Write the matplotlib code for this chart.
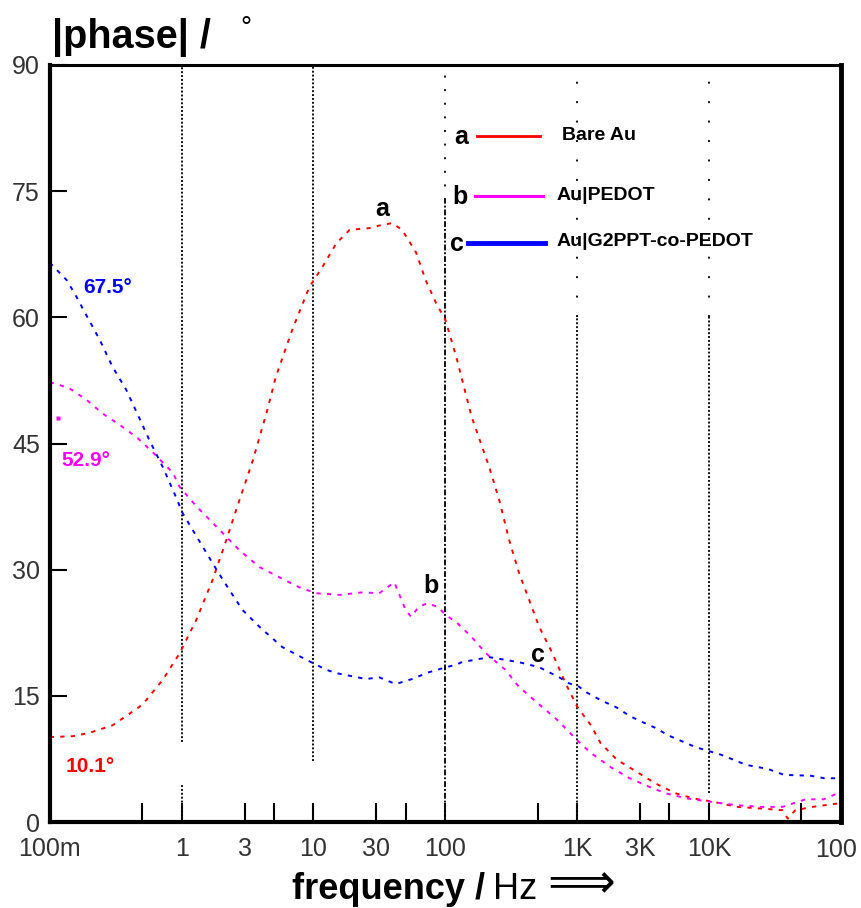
import matplotlib
matplotlib.use("Agg")
import matplotlib.pyplot as plt
from matplotlib.lines import Line2D
from matplotlib.ticker import NullLocator, FixedLocator, FixedFormatter

# ---------------- data ----------------
freq_a = [0.1, 0.15, 0.2, 0.3, 0.48, 0.54, 0.72, 0.97, 1.29, 1.72, 2.18, 2.75, 3.47, 4.4, 5.2,
          6.9, 9.3, 11.7, 14.9, 18.8, 26.4, 33.2, 39.5, 47, 60, 71, 85, 100, 121, 158, 215,
          256, 305, 362, 432, 515, 647, 815, 1000, 1270, 1500, 2000, 2800, 3900, 5600, 7600,
          10800, 16200, 25000, 36000, 39500, 45000, 61000, 94000, 100000]
phase_a = [10.1, 10.2, 10.6, 11.5, 13.7, 14.5, 16.9, 20.1, 24.0, 28.8, 33.5, 38.3, 43.0, 48.6, 53.0,
           58.5, 63.6, 66.0, 68.8, 70.4, 70.6, 71.0, 71.2, 70.4, 67.7, 64.4, 61.7, 59.7, 55.3, 48.2, 42.2,
           38.3, 33.5, 29.6, 26.4, 23.2, 20.1, 16.5, 13.7, 11.5, 9.4, 7.4, 6.0, 4.6, 3.4, 2.8,
           2.4, 1.8, 1.6, 1.4, 0.4, 1.4, 1.8, 2.2, 2.2]

freq_b = [0.1, 0.14, 0.19, 0.25, 0.34, 0.46, 0.61, 0.86, 0.97, 1.3, 1.95, 2.75, 3.9, 5.5, 7.8,
          10.5, 15.8, 23.5, 31.5, 41, 50, 55, 63, 73, 87, 101, 122, 158, 202, 285, 360, 455,
          710, 1000, 1270, 1800, 2500, 3500, 4700, 6800, 10300, 16000, 25000, 36000, 45000,
          54000, 74000, 94000, 100000]
phase_b = [52.3, 51.6, 50.2, 48.6, 47.2, 45.7, 43.9, 41.5, 39.8, 37.5, 34.7, 32.3, 30.3, 29.1, 27.9,
           27.2, 27.0, 27.3, 27.2, 28.5, 25.2, 24.4, 25.6, 26.0, 25.6, 24.6, 23.7, 22.0, 20.1, 18.1, 16.1, 14.7,
           12.1, 9.7, 8.2, 6.5, 5.2, 4.2, 3.4, 2.8, 2.4, 2.0, 1.8, 1.8, 2.3,
           2.7, 2.7, 3.4, 3.6]
stray_b_freq = [0.1155]
stray_b_phase = [48.0]

freq_c = [0.1, 0.135, 0.16, 0.195, 0.24, 0.3, 0.38, 0.46, 0.57, 0.72, 0.88, 1.02, 1.45, 1.84, 2.3,
          2.9, 3.9, 5.8, 8.8, 12.5, 14.9, 25, 31.5, 42, 56, 75, 101, 121, 133, 215, 362, 515,
          730, 863, 1030, 1150, 1500, 2000, 2500, 3100, 3900, 4900, 7900, 12300, 19000, 28000,
          37000, 59000, 75000, 93000, 100000]
phase_c = [66.5, 64.4, 62.4, 59.9, 57.3, 54.1, 51.4, 48.6, 45.4, 42.2, 39.1, 36.7, 32.7, 30.0, 27.6,
           25.2, 23.2, 20.8, 19.3, 18.1, 17.7, 17.0, 17.2, 16.4, 17.0, 17.8, 18.4, 18.7, 19.0, 19.6, 19.0, 18.4,
           17.2, 16.5, 16.1, 15.5, 14.5, 13.6, 12.6, 11.9, 11.2, 10.3, 8.9, 8.0, 6.8, 6.3,
           5.6, 5.5, 5.2, 5.2, 5.2]

series_names = ["Bare Au", "Au|PEDOT", "Au|G2PPT-co-PEDOT"]
series_letters = ["a", "b", "c"]
series_colors = ["#ff0000", "#ff00ff", "#0000ff"]
start_labels = ["10.1°", "52.9°", "67.5°"]

x_tick_pos = [0.1, 0.5, 1, 3, 5, 10, 30, 50, 100, 500, 1e3, 3e3, 5e3, 1e4, 5e4, 1e5]
x_tick_lab = ["100m", "", "1", "3", "", "10", "30", "", "100", "", "1K", "3K", "", "10K", "", ""]
y_ticks = [0, 15, 30, 45, 60, 75, 90]
grid_freqs = [1, 10, 100, 1e3, 1e4]

# ---------------- figure ----------------
W, H = 862, 908
fig = plt.figure(figsize=(W / 100, H / 100), dpi=100)
fig.patch.set_facecolor("white")
AX_L, AX_R, AX_T, AX_B = 49.7, 841.0, 65.0, 822.0
ax = fig.add_axes([AX_L / W, 1 - AX_B / H, (AX_R - AX_L) / W, (AX_B - AX_T) / H])

def F(x, y):
    return (x / W, 1 - y / H)

SANS = ["Liberation Sans", "DejaVu Sans"]

ax.set_xscale("log")
ax.set_xlim(0.1, 1e5)
ax.set_ylim(0, 90)

# grid lines (vertical dotted)
gcol = "#111111"
dots = (0, (1, 1.0))
ax.vlines(grid_freqs[0], 9.5, 90, colors=gcol, linestyles=dots, lw=1.4)
ax.vlines(grid_freqs[0], 0, 4.5, colors=gcol, linestyles=dots, lw=1.4)
ax.vlines(grid_freqs[1], 7.2, 90, colors=gcol, linestyles=dots, lw=1.4)
ax.vlines(grid_freqs[2], 0, 74, colors=gcol, linestyles=(0, (3, 1.0, 1, 1.0)), lw=1.4)
ax.vlines(grid_freqs[2], 74, 90, colors=gcol, linestyles=(0, (1, 6)), lw=1.4)
ax.vlines(grid_freqs[3], 0, 60, colors=gcol, linestyles=dots, lw=1.4)
ax.vlines(grid_freqs[3], 60, 90, colors=gcol, linestyles=(0, (1, 9)), lw=1.4)
ax.vlines(grid_freqs[4], 3.5, 60, colors=gcol, linestyles=dots, lw=1.4)
ax.vlines(grid_freqs[4], 60, 90, colors=gcol, linestyles=(0, (1, 9)), lw=1.4)

# curves
ls = (0, (2.2, 3.2))
ax.plot(freq_a, phase_a, color=series_colors[0], lw=1.4, ls=ls)
ax.plot(freq_b, phase_b, color=series_colors[1], lw=1.4, ls=ls)
ax.plot(freq_c, phase_c, color=series_colors[2], lw=1.4, ls=ls)
ax.plot(stray_b_freq, stray_b_phase, ls="none", marker="s", ms=3, color=series_colors[1], mec="none")

# spines
for s, lw in [("left", 3), ("bottom", 3), ("top", 2.2), ("right", 3.5)]:
    ax.spines[s].set_linewidth(lw)
    ax.spines[s].set_color("black")

# ticks
ax.set_yticks(y_ticks)
ax.set_yticklabels([str(v) for v in y_ticks])
ax.tick_params(axis="y", direction="in", length=12, width=1.5, pad=7,
               labelsize=18, labelcolor="#333333", right=False)
ax.xaxis.set_major_locator(FixedLocator(x_tick_pos))
ax.xaxis.set_major_formatter(FixedFormatter(x_tick_lab))
ax.xaxis.set_minor_locator(NullLocator())
ax.tick_params(axis="x", direction="in", length=14, width=1.5, pad=11,
               labelsize=18, labelcolor="#333333", top=False)
for lab in ax.get_xticklabels() + ax.get_yticklabels():
    lab.set_family(SANS)
fig.text(*F(836, 850), "100", ha="center", va="center", fontsize=18, color="#333333", family=SANS)

# axis titles
fig.text(*F(52, 48), "|phase| /", ha="left", va="baseline", fontsize=28.5, fontweight="bold", family=SANS)
fig.text(*F(246, 36), "°", ha="center", va="baseline", fontsize=20, family=SANS)
fig.text(*F(292, 899), "frequency /", ha="left", va="baseline", fontsize=26, fontweight="bold", family=SANS)
fig.text(*F(493, 899), "Hz", ha="left", va="baseline", fontsize=26, family=SANS)
fig.text(*F(547, 897), "⟹", ha="left", va="baseline", fontsize=34, family=["DejaVu Sans"])

# start-value labels
fig.text(*F(66, 767), start_labels[0], color=series_colors[0], ha="left", va="center",
         fontsize=15, fontweight="bold", family=SANS)
fig.text(*F(61, 461), start_labels[1], color=series_colors[1], ha="left", va="center",
         fontsize=15, fontweight="bold", family=SANS)
fig.text(*F(83, 287), start_labels[2], color=series_colors[2], ha="left", va="center",
         fontsize=15, fontweight="bold", family=SANS)

# curve letters
fig.text(*F(382, 209), series_letters[0], ha="center", va="center", fontsize=18, fontweight="bold", family=SANS)
fig.text(*F(431, 586), series_letters[1], ha="center", va="center", fontsize=18, fontweight="bold", family=SANS)
fig.text(*F(538, 655), series_letters[2], ha="center", va="center", fontsize=18, fontweight="bold", family=SANS)

# manual legend
leg_rows = [(136, 461, 477, 540, 2.0, 562), (196, 460, 475, 543, 2.2, 557), (243, 457, 468, 545, 3.5, 557)]
for i, (yy, lx, x0, x1, lw, tx) in enumerate(leg_rows):
    fig.text(*F(lx, yy + 1), series_letters[i], ha="center", va="center", fontsize=18,
             fontweight="bold", family=SANS)
    fig.add_artist(Line2D([x0 / W, x1 / W], [1 - yy / H, 1 - yy / H], color=series_colors[i], lw=lw,
                          transform=fig.transFigure))
    fig.text(*F(tx, yy - 1), series_names[i], ha="left", va="center", fontsize=14,
             fontweight="bold", family=SANS)

fig.savefig("out.png", dpi=100, facecolor="white")
